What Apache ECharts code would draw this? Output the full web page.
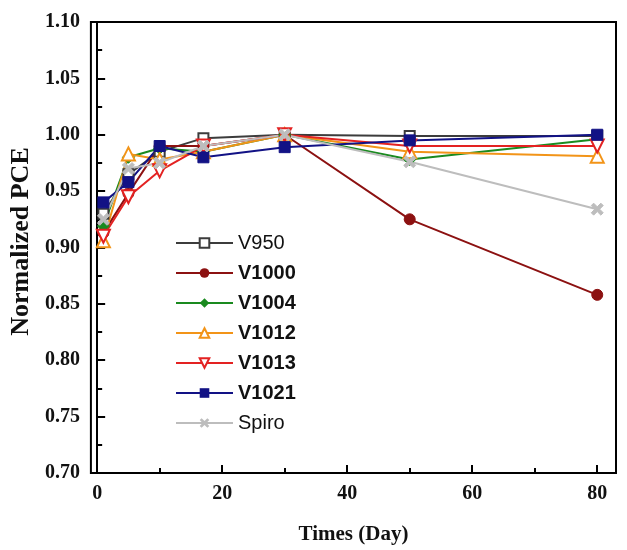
<!DOCTYPE html>
<html><head><meta charset="utf-8">
<script src="https://cdn.jsdelivr.net/npm/echarts@6/dist/echarts.min.js"></script>
<style>html,body{margin:0;padding:0;background:#fff}#c{width:627px;height:550px}</style>
</head><body><div id="c"></div>
<script>
const days = [1, 5, 10, 17, 30, 50, 80];
const V950  = [0.930, 0.965, 0.985, 0.997, 1.000, 0.999, 0.999];
const V1000 = [0.913, 0.948, 0.990, 0.990, 1.000, 0.925, 0.858];
const V1004 = [0.919, 0.980, 0.988, 0.985, 1.000, 0.978, 0.996];
const V1012 = [0.906, 0.983, 0.978, 0.985, 1.000, 0.985, 0.981];
const V1013 = [0.910, 0.945, 0.968, 0.990, 1.000, 0.990, 0.990];
const V1021 = [0.940, 0.958, 0.990, 0.980, 0.989, 0.995, 1.000];
const Spiro = [0.925, 0.970, 0.975, 0.990, 1.000, 0.976, 0.934];
const xMajor = [0, 20, 40, 60, 80];
const xMinor = [10, 30, 50, 70];

const serif = 'Liberation Serif';
const pair = v => days.map((d, i) => [d, v[i]]);
const xPath = 'path://M2,0 L5,3 L8,0 L10,2 L7,5 L10,8 L8,10 L5,7 L2,10 L0,8 L3,5 L0,2 Z';
function mk(name, data, color, symbol, opts) {
  return Object.assign({
    name, type: 'line', data: pair(data), symbol, symbolSize: 11,
    lineStyle: { color, width: 2 },
    itemStyle: { color, borderColor: color },
    emphasis: { disabled: true }, z: 3
  }, opts || {});
}
const series = [
  mk('V950', V950, '#3c3c3c', 'rect', { symbolSize: 10, itemStyle: { color: '#fff', borderColor: '#3c3c3c', borderWidth: 2 } }),
  mk('V1000', V1000, '#8c1111', 'circle'),
  mk('V1004', V1004, '#1a8a1f', 'diamond', { symbolSize: 12 }),
  mk('V1012', V1012, '#f29418', 'triangle', { symbolSize: 13, itemStyle: { color: '#fff', borderColor: '#f29418', borderWidth: 2 } }),
  mk('V1013', V1013, '#e32222', 'triangle', { symbolSize: 13, symbolRotate: 180, itemStyle: { color: '#fff', borderColor: '#e32222', borderWidth: 2 } }),
  mk('V1021', V1021, '#121285', 'rect', { symbolSize: 11 }),
  mk('Spiro', Spiro, '#bdbdbd', xPath, { symbolSize: 12 })
];
const chart = echarts.init(document.getElementById('c'));
chart.setOption({
  animation: false,
  grid: { left: 88, right: 11, top: 22, bottom: 73, show: true, borderColor: '#000', borderWidth: 2, backgroundColor: 'transparent' },
  legend: {
    orient: 'vertical', left: 175, top: 233, padding: 0, itemWidth: 57, itemHeight: 12, itemGap: 10,
    data: series.map(s => s.name),
    textStyle: {
      fontFamily: 'Liberation Sans', fontSize: 20, color: '#111',
      rich: { n: { fontFamily: 'Liberation Sans', fontSize: 20, fontWeight: 'normal', color: '#111' },
              b: { fontFamily: 'Liberation Sans', fontSize: 20, fontWeight: 'bold', color: '#111' } }
    },
    formatter: n => (n === 'V950' || n === 'Spiro') ? '{n|' + n + '}' : '{b|' + n + '}'
  },
  xAxis: [{
    type: 'value', min: -1, max: 83, position: 'bottom',
    name: 'Times (Day)', nameLocation: 'middle', nameGap: 51,
    nameTextStyle: { fontFamily: serif, fontWeight: 'bold', fontSize: 21, color: '#111' },
    axisLine: { show: true, lineStyle: { color: '#000', width: 2 } },
    axisTick: { show: true, inside: true, length: 8, customValues: xMajor, lineStyle: { color: '#000', width: 2 } },
    axisLabel: { customValues: xMajor, fontFamily: serif, fontWeight: 'bold', fontSize: 20, color: '#111', margin: 11 },
    splitLine: { show: false }
  }, {
    type: 'value', min: -1, max: 83, position: 'bottom',
    axisLine: { show: false },
    axisTick: { show: true, inside: true, length: 5, customValues: xMinor, lineStyle: { color: '#000', width: 2 } },
    axisLabel: { show: false }, splitLine: { show: false }
  }],
  yAxis: {
    type: 'value', min: 0.7, max: 1.1, interval: 0.05,
    name: 'Normalized PCE', nameLocation: 'middle', nameGap: 50,
    nameTextStyle: { fontFamily: serif, fontWeight: 'bold', fontSize: 26, color: '#111', padding: [0, 0, 0, 12] },
    axisLine: { show: true, lineStyle: { color: '#000', width: 2 } },
    axisTick: { show: true, inside: true, length: 8, lineStyle: { color: '#000', width: 2 } },
    minorTick: { show: true, splitNumber: 2, length: 5, lineStyle: { color: '#000', width: 2 } },
    axisLabel: { formatter: v => v.toFixed(2), fontFamily: serif, fontWeight: 'bold', fontSize: 20, color: '#111', margin: 11 },
    splitLine: { show: false }
  },
  series
});
</script></body></html>
